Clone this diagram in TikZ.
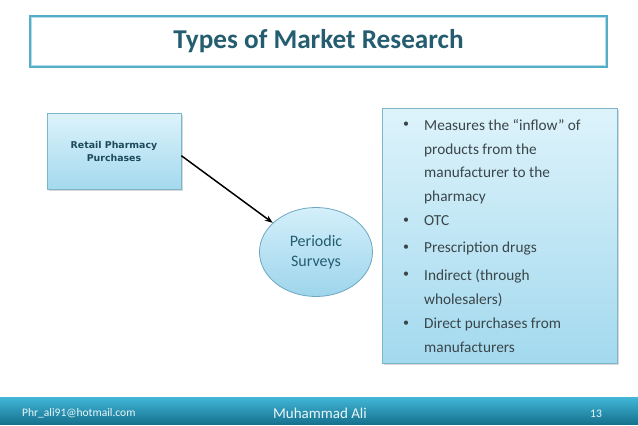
\documentclass[tikz,border=0pt]{standalone}
\usepackage{fontspec}
\setmainfont{Carlito}
\newfontfamily\boxfont{DejaVu Sans}
\usetikzlibrary{shapes.geometric,shadows,arrows.meta}

\definecolor{titleline}{HTML}{55ADC8}
\definecolor{titleinner}{HTML}{B4DDEB}
\definecolor{titletext}{HTML}{245C70}
\definecolor{boxline}{HTML}{7DB5CB}
\definecolor{boxtop}{HTML}{DDF3FB}
\definecolor{boxbottom}{HTML}{A3D9EE}
\definecolor{ovaltop}{HTML}{D3EFFA}
\definecolor{ovalbottom}{HTML}{9ED5EC}
\definecolor{ovalline}{HTML}{6EA8C0}
\definecolor{bartop}{HTML}{42B7D8}
\definecolor{barbottom}{HTML}{16728F}
\definecolor{bartext}{HTML}{EAF6FA}
\definecolor{listtext}{HTML}{3A4649}

\begin{document}
\begin{tikzpicture}[x=1pt,y=-1pt,
titlebox/.style={draw=titleline,line width=2.2pt,rectangle,minimum width=577pt,minimum height=51pt,inner sep=0pt},
salesbox/.style={draw=boxline,line width=0.8pt,rectangle,top color=boxtop,bottom color=boxbottom,
  drop shadow={shadow xshift=1.5pt,shadow yshift=-1.5pt,opacity=0.3},inner sep=0pt},
oval/.style={draw=ovalline,line width=0.8pt,ellipse,top color=ovaltop,bottom color=ovalbottom,
  minimum width=113pt,minimum height=89pt,inner sep=0pt},
item/.style={anchor=north west,inner sep=0pt,align=left,text=listtext,
  font=\fontsize{15.3}{23.8}\selectfont},
bul/.style={anchor=base,inner sep=0pt,text=listtext,font=\fontsize{12}{14}\selectfont},
footbar/.style={rectangle,top color=bartop,bottom color=barbottom,minimum width=638pt,minimum height=27pt,inner sep=0pt},
foottext/.style={inner sep=0pt,text=bartext}]

\useasboundingbox[fill=white] (0,0) rectangle (638,426);

% heading
\draw (318.5,41.5) node[titlebox] (title) {};
\draw[titleinner,line width=0.8pt] ([xshift=2.5pt,yshift=-2.5pt]title.north west) rectangle ([xshift=-2.5pt,yshift=2.5pt]title.south east);
\node[text=titletext,font=\bfseries\fontsize{27.2}{30}\selectfont] at (title.center) {Types of Market Research};

% diagram
\draw (114,151) node[salesbox,minimum width=134pt,minimum height=76pt,text=titletext!80!black,
  font=\boxfont\bfseries\fontsize{9.4}{13}\selectfont,align=center] (rp) {Retail Pharmacy\\Purchases};
\draw (316,252) node[oval,text=titletext,font=\fontsize{16}{19.5}\selectfont,align=center] (ps) {Periodic\\Surveys};
\draw[-{Stealth[length=8pt,width=6pt]},line width=1.5pt] (rp.-4) -- (ps.146);

% list box
\draw (499.5,235.5) node[salesbox,minimum width=235pt,minimum height=255pt] (list) {};
\foreach \y in {127,223,250,277,326}
  \node[bul] at (406,\y) {•};
\node[item] (i1) at (424,119) {Measures the “inflow” of\\products from the\\manufacturer to the\\pharmacy};
\node[item] (i2) at (424,215) {OTC};
\node[item] (i3) at (424,242) {Prescription drugs};
\node[item] (i4) at (424,269) {Indirect (through\\wholesalers)};
\node[item] (i5) at (424,318) {Direct purchases from\\manufacturers};

% footer
\draw (319,410.5) node[footbar] (bar) {};
\node[foottext,anchor=west,font=\fontsize{11.5}{13}\selectfont] (mail) at (22,413.5) {Phr\_ali91@hotmail.com};
\node[foottext,font=\fontsize{15}{17}\selectfont] (name) at (320,413) {Muhammad Ali};
\node[foottext,font=\fontsize{11.5}{13}\selectfont] (page) at (596,414) {13};
\end{tikzpicture}
\end{document}
